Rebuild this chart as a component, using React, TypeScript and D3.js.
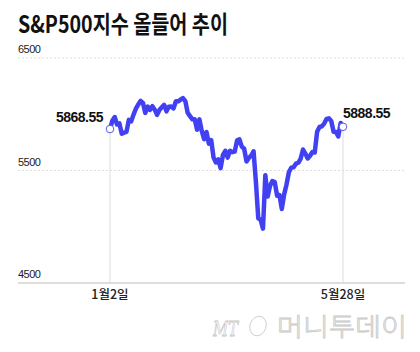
import { useEffect, useRef } from 'react';
import * as d3 from 'd3';

// S&P500 daily closes, 2 Jan 2025 .. 28 May 2025
const jan = [5868.55, 5942.47, 5975.38, 5909.03, 5918.25, 5827.04, 5836.22, 5842.91, 5949.91, 5937.34,
  5996.66, 6049.24, 6086.37, 6118.71, 6101.24, 6012.28, 6067.7, 6039.31, 6071.17, 6040.53];
const feb = [5994.57, 6037.88, 6061.48, 6083.57, 6025.99, 6066.44, 6068.5, 6051.97, 6115.07, 6114.63,
  6129.58, 6144.15, 6117.52, 6013.13, 5983.25, 5955.25, 5956.06, 5861.57, 5954.5];
const mar = [5849.72, 5778.15, 5842.63, 5738.52, 5770.2, 5614.56, 5572.07, 5599.3, 5521.52, 5638.94,
  5675.12, 5614.66, 5675.29, 5662.89, 5667.56, 5767.57, 5776.65, 5712.2, 5693.31, 5580.94, 5611.85];
const apr = [5633.07, 5670.97, 5396.52, 5074.08, 5062.25, 4982.77, 5456.9, 5268.05, 5363.36, 5405.97,
  5396.63, 5275.7, 5282.7, 5158.2, 5287.76, 5375.86, 5484.77, 5525.21, 5528.75, 5560.83, 5569.06];
const may = [5604.14, 5686.67, 5650.38, 5606.91, 5631.28, 5663.94, 5659.91, 5844.19, 5886.55, 5892.58,
  5916.93, 5958.38, 5963.6, 5940.46, 5844.61, 5842.01, 5802.82, 5921.54, 5888.55];

const values = [...jan, ...feb, ...mar, ...apr, ...may];
const yTicks = [6500, 5500, 4500];
const xLabels = ['1월2일', '5월28일'];
const endLabels = ['5868.55', '5888.55'];
const title = 'S&P500지수 올들어 추이';

const App = () => {
  const svgRef = useRef<SVGSVGElement>(null);

  useEffect(() => {
    const width = 420;
    const height = 352;
    const svg = d3.select(svgRef.current)
      .attr('width', width)
      .attr('height', height)
      .style('display', 'block')
      .style('font-family', '"Noto Sans CJK KR", "Noto Sans", sans-serif');
    svg.selectAll('*').remove();

    const x = d3.scaleLinear().domain([0, values.length - 1]).range([110, 343]);
    const y = d3.scaleLinear().domain([4500, 6500]).range([283, 58]);

    // title
    svg.append('text')
      .attr('x', 18).attr('y', 33)
      .attr('font-size', 24).attr('font-weight', 700)
      .attr('textLength', 210).attr('lengthAdjust', 'spacingAndGlyphs')
      .attr('fill', '#111')
      .text(title);

    // grid
    yTicks.forEach((t) => {
      const last = t === 4500;
      svg.append('line')
        .attr('x1', 18).attr('x2', 405)
        .attr('y1', y(t)).attr('y2', y(t))
        .attr('stroke', last ? '#bbb' : '#ddd')
        .attr('stroke-dasharray', last ? null : '2,2');
      svg.append('text')
        .attr('x', 18).attr('y', y(t) - 5)
        .attr('font-size', 11).attr('fill', '#222')
        .attr('font-family', '"Liberation Sans Narrow", Arial, sans-serif')
        .attr('letter-spacing', -0.5)
        .text(t);
    });

    const ends = [0, values.length - 1];

    // drop lines
    ends.forEach((i) => {
      svg.append('line')
        .attr('x1', x(i)).attr('x2', x(i))
        .attr('y1', y(values[i])).attr('y2', y(4500))
        .attr('stroke', '#ddd');
    });

    // line
    const line = d3.line<number>()
      .x((d, i) => x(i))
      .y((d) => y(d));
    svg.append('path')
      .datum(values)
      .attr('d', line)
      .attr('fill', 'none')
      .attr('stroke', '#4141f2')
      .attr('stroke-width', 4.5)
      .attr('stroke-linejoin', 'round')
      .attr('stroke-linecap', 'round');

    // end markers + labels
    ends.forEach((i, k) => {
      svg.append('circle')
        .attr('cx', x(i)).attr('cy', y(values[i]))
        .attr('r', 3.8)
        .attr('fill', '#fff')
        .attr('stroke', '#5a5ae0')
        .attr('stroke-width', 1);
      svg.append('text')
        .attr('x', k === 0 ? x(i) - 7 : x(i))
        .attr('y', y(values[i]) - (k === 0 ? 7 : 9))
        .attr('text-anchor', k === 0 ? 'end' : 'start')
        .attr('font-size', 14).attr('font-weight', 700)
        .attr('font-family', 'Arial, "Liberation Sans", sans-serif')
        .attr('letter-spacing', -0.5)
        .attr('fill', '#111')
        .text(endLabels[k]);
      svg.append('text')
        .attr('x', x(i)).attr('y', 299)
        .attr('text-anchor', 'middle')
        .attr('font-size', 12.5).attr('font-weight', 500)
        .attr('fill', '#222')
        .text(xLabels[k]);
    });

    // watermark
    const wm = svg.append('g').attr('fill', 'none').attr('stroke', '#c8c8c8').attr('stroke-width', 0.8);
    wm.append('text')
      .attr('x', 213).attr('y', 336)
      .attr('font-size', 21).attr('font-style', 'italic')
      .attr('font-family', '"DejaVu Serif", serif')
      .attr('textLength', 25).attr('lengthAdjust', 'spacingAndGlyphs')
      .text('MT');
    wm.append('ellipse')
      .attr('cx', 258).attr('cy', 326).attr('rx', 8).attr('ry', 10)
      .attr('transform', 'rotate(20 258 326)');
    wm.append('text')
      .attr('x', 277).attr('y', 336)
      .attr('font-size', 25).attr('font-weight', 300)
      .attr('textLength', 130).attr('lengthAdjust', 'spacingAndGlyphs')
      .text('머니투데이');
  }, []);

  return <svg ref={svgRef} style={{ position: 'absolute', left: 0, top: 0 }}></svg>;
};

export default App;
